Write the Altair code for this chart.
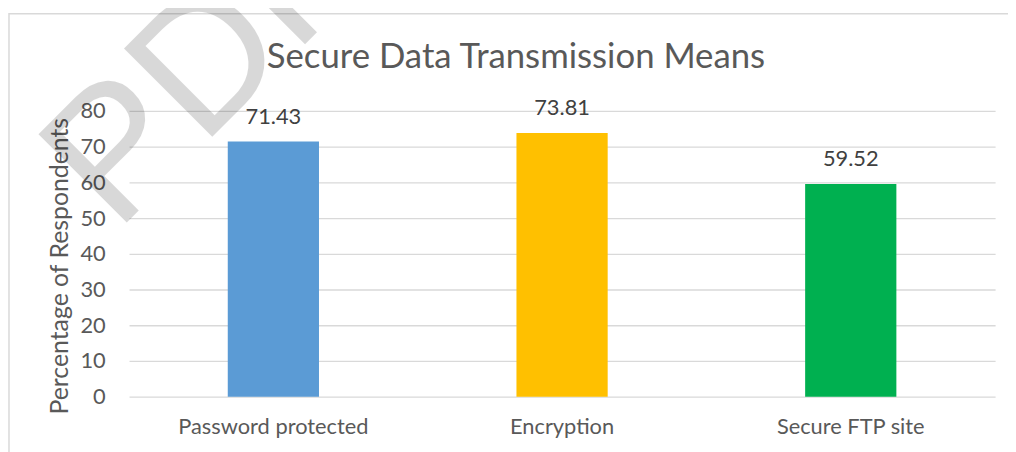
import altair as alt
import pandas as pd

categories = ["Password protected", "Encryption", "Secure FTP site"]
values = [71.43, 73.81, 59.52]
colors = ["#5B9BD5", "#FFC000", "#00B050"]
y_ticks = [0, 10, 20, 30, 40, 50, 60, 70, 80]
title_text = "Secure Data Transmission Means"

df = pd.DataFrame({
    "category": categories,
    "value": values,
    "label": [f"{v:.2f}" for v in values],
})

FONT = "Lato"

x_enc = alt.X(
    "category:N",
    sort=categories,
    title=None,
    scale=alt.Scale(paddingInner=0.684, paddingOuter=0.342),
    axis=alt.Axis(labelAngle=0, ticks=False, tickSize=0, domain=False,
                  labelFont=FONT, labelFontSize=22, labelColor="#595959",
                  labelPadding=20, labelLimit=0),
)
y_enc = alt.Y(
    "value:Q",
    title="Percentage of Respondents",
    scale=alt.Scale(domain=[0, 80], nice=False),
    axis=alt.Axis(values=y_ticks, tickCount=9, grid=True, gridColor="#d9d9d9", gridWidth=1.3,
                  domain=False, ticks=False, tickSize=0, labelOverlap=False,
                  labelFont=FONT, labelFontSize=22, labelColor="#595959",
                  labelPadding=24,
                  titleFont=FONT, titleFontSize=25, titleColor="#595959",
                  titleFontWeight="normal", titleX=-70, titleY=156,
                  titleBaseline="middle"),
)

bars = alt.Chart(df).mark_bar().encode(
    x=x_enc,
    y=y_enc,
    color=alt.Color("category:N", scale=alt.Scale(domain=categories, range=colors), legend=None),
)

labels = alt.Chart(df).mark_text(
    dy=-18, baseline="alphabetic", font=FONT, fontSize=22, color="#404040"
).encode(
    x=x_enc,
    y=y_enc,
    text="label:N",
)

one = pd.DataFrame({"a": [0]})
border = alt.Chart(one).mark_rect(
    fill="white", fillOpacity=0, stroke="#d9d9d9", strokeWidth=1.5
).encode(
    x=alt.value(-121), x2=alt.value(1000), y=alt.value(-98), y2=alt.value(400)
)

title = alt.Chart(one).mark_text(
    align="center", baseline="alphabetic", font=FONT, fontSize=35, color="#595959"
).encode(
    x=alt.value(390), y=alt.value(-43), text=alt.value(title_text)
)

watermark = alt.Chart(one).mark_text(
    angle=315, align="left", baseline="alphabetic", font="Liberation Sans", fontSize=183,
    fill="black", opacity=0.15
).encode(
    x=alt.value(-13), y=alt.value(123), text=alt.value("PDF")
)

chart = alt.layer(border, bars, labels, title, watermark).properties(
    width=873,
    height=288,
    autosize=alt.AutoSizeParams(type="none"),
    padding={"left": 122, "top": 102, "right": 13, "bottom": 54},
).configure_view(stroke=None)

chart.save("out.html", embed_options={"renderer": "svg", "actions": False})
